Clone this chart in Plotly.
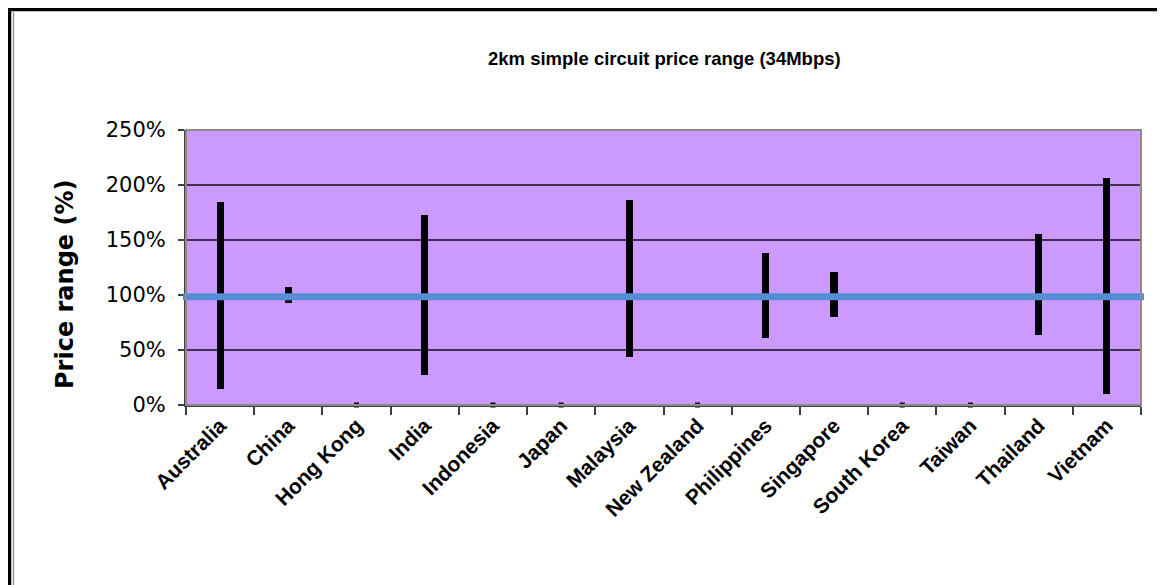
import plotly.graph_objects as go

countries = ["Australia", "China", "Hong Kong", "India", "Indonesia", "Japan",
             "Malaysia", "New Zealand", "Philippines", "Singapore", "South Korea",
             "Taiwan", "Thailand", "Vietnam"]
low = [14.3, 92.7, 0, 27.3, 0, 0, 43.5, 0, 60.8, 79.6, 0, 0, 63.2, 9.8]
high = [185.0, 106.9, 0, 172.3, 0, 0, 186.2, 0, 138.3, 120.6, 0, 0, 155.9, 206.0]
reference_level = 98.5
y_ticks = [0, 50, 100, 150, 200, 250]
y_tick_text = ["0%", "50%", "100%", "150%", "200%", "250%"]

# page body has an 8px margin: figure is shifted so screen coords match
OFF = 8
W, H = 1165 - OFF, 585 - OFF
L_S, T_S = 186, 130          # plot area left/top in screen pixels
PW, PH = 955, 275
L, T = L_S - OFF, T_S - OFF
R = W - L - PW
B = H - T - PH


def px(x):
    return (x - L_S) / PW


def py(y):
    return (T_S + PH - y) / PH


fig = go.Figure()
fig.add_trace(go.Bar(
    x=countries,
    y=[h - l for h, l in zip(high, low)],
    base=low,
    width=0.105,
    marker=dict(color="black", line=dict(width=0)),
    showlegend=False,
))
zero_x = [c for c, l, h in zip(countries, low, high) if l == h]
zero_y = [l for l, h in zip(low, high) if l == h]
fig.add_trace(go.Scatter(
    x=zero_x, y=zero_y, mode="markers",
    marker=dict(symbol="square", size=5, color="black"),
    cliponaxis=False, showlegend=False,
))

# reference line
fig.add_shape(type="line", xref="paper", yref="y", x0=px(183), x1=px(1144),
              y0=reference_level, y1=reference_level,
              line=dict(color="#558ED5", width=7), layer="above")
# plot border
fig.add_shape(type="rect", xref="paper", yref="paper", x0=0, x1=1, y0=0, y1=1,
              line=dict(color="#8a8a8a", width=2), layer="above")
# outer frame
fig.add_shape(type="line", xref="paper", yref="paper", x0=px(8), x1=px(1175),
              y0=py(9.5), y1=py(9.5), line=dict(color="black", width=3.5))
fig.add_shape(type="line", xref="paper", yref="paper", x0=px(9.5), x1=px(9.5),
              y0=py(8), y1=py(600), line=dict(color="black", width=3.5))
fig.add_shape(type="line", xref="paper", yref="paper", x0=px(13.5), x1=px(13.5),
              y0=py(12), y1=py(600), line=dict(color="#999999", width=1.5))

fig.add_annotation(text="2km simple circuit price range (34Mbps)", xref="paper", yref="paper",
                   x=px(664), y=py(58), showarrow=False, xanchor="center", yanchor="middle",
                   font=dict(family="Liberation Sans", size=18.5, color="black", weight="bold"))
fig.add_annotation(text="Price range (%)", xref="paper", yref="paper",
                   x=px(65), y=py(285), showarrow=False, textangle=-90,
                   xanchor="center", yanchor="middle",
                   font=dict(family="DejaVu Sans", size=24, color="black", weight="bold"))

fig.update_layout(
    width=W, height=H,
    margin=dict(l=L, r=R, t=T, b=B),
    paper_bgcolor="white",
    plot_bgcolor="#CC99FF",
    bargap=0,
)
fig.update_xaxes(
    type="category", tickson="boundaries", ticks="outside", ticklen=8,
    tickcolor="#404040", tickwidth=1.5, tickangle=-45,
    showline=True, linecolor="#404040", linewidth=2,
    showgrid=False, ticklabelstandoff=-2,
    tickfont=dict(family="Liberation Sans", size=21, color="black", weight="bold"),
)
fig.update_yaxes(
    range=[0, 250], tickvals=y_ticks, ticktext=y_tick_text,
    ticks="outside", ticklen=6, tickcolor="#404040", tickwidth=1.5,
    showline=True, linecolor="#404040", linewidth=2,
    showgrid=True, gridcolor="#40304f", gridwidth=1.5, zeroline=False,
    ticklabelstandoff=8,
    tickfont=dict(family="DejaVu Sans", size=21, color="black"),
)

fig.write_html("out.html")
